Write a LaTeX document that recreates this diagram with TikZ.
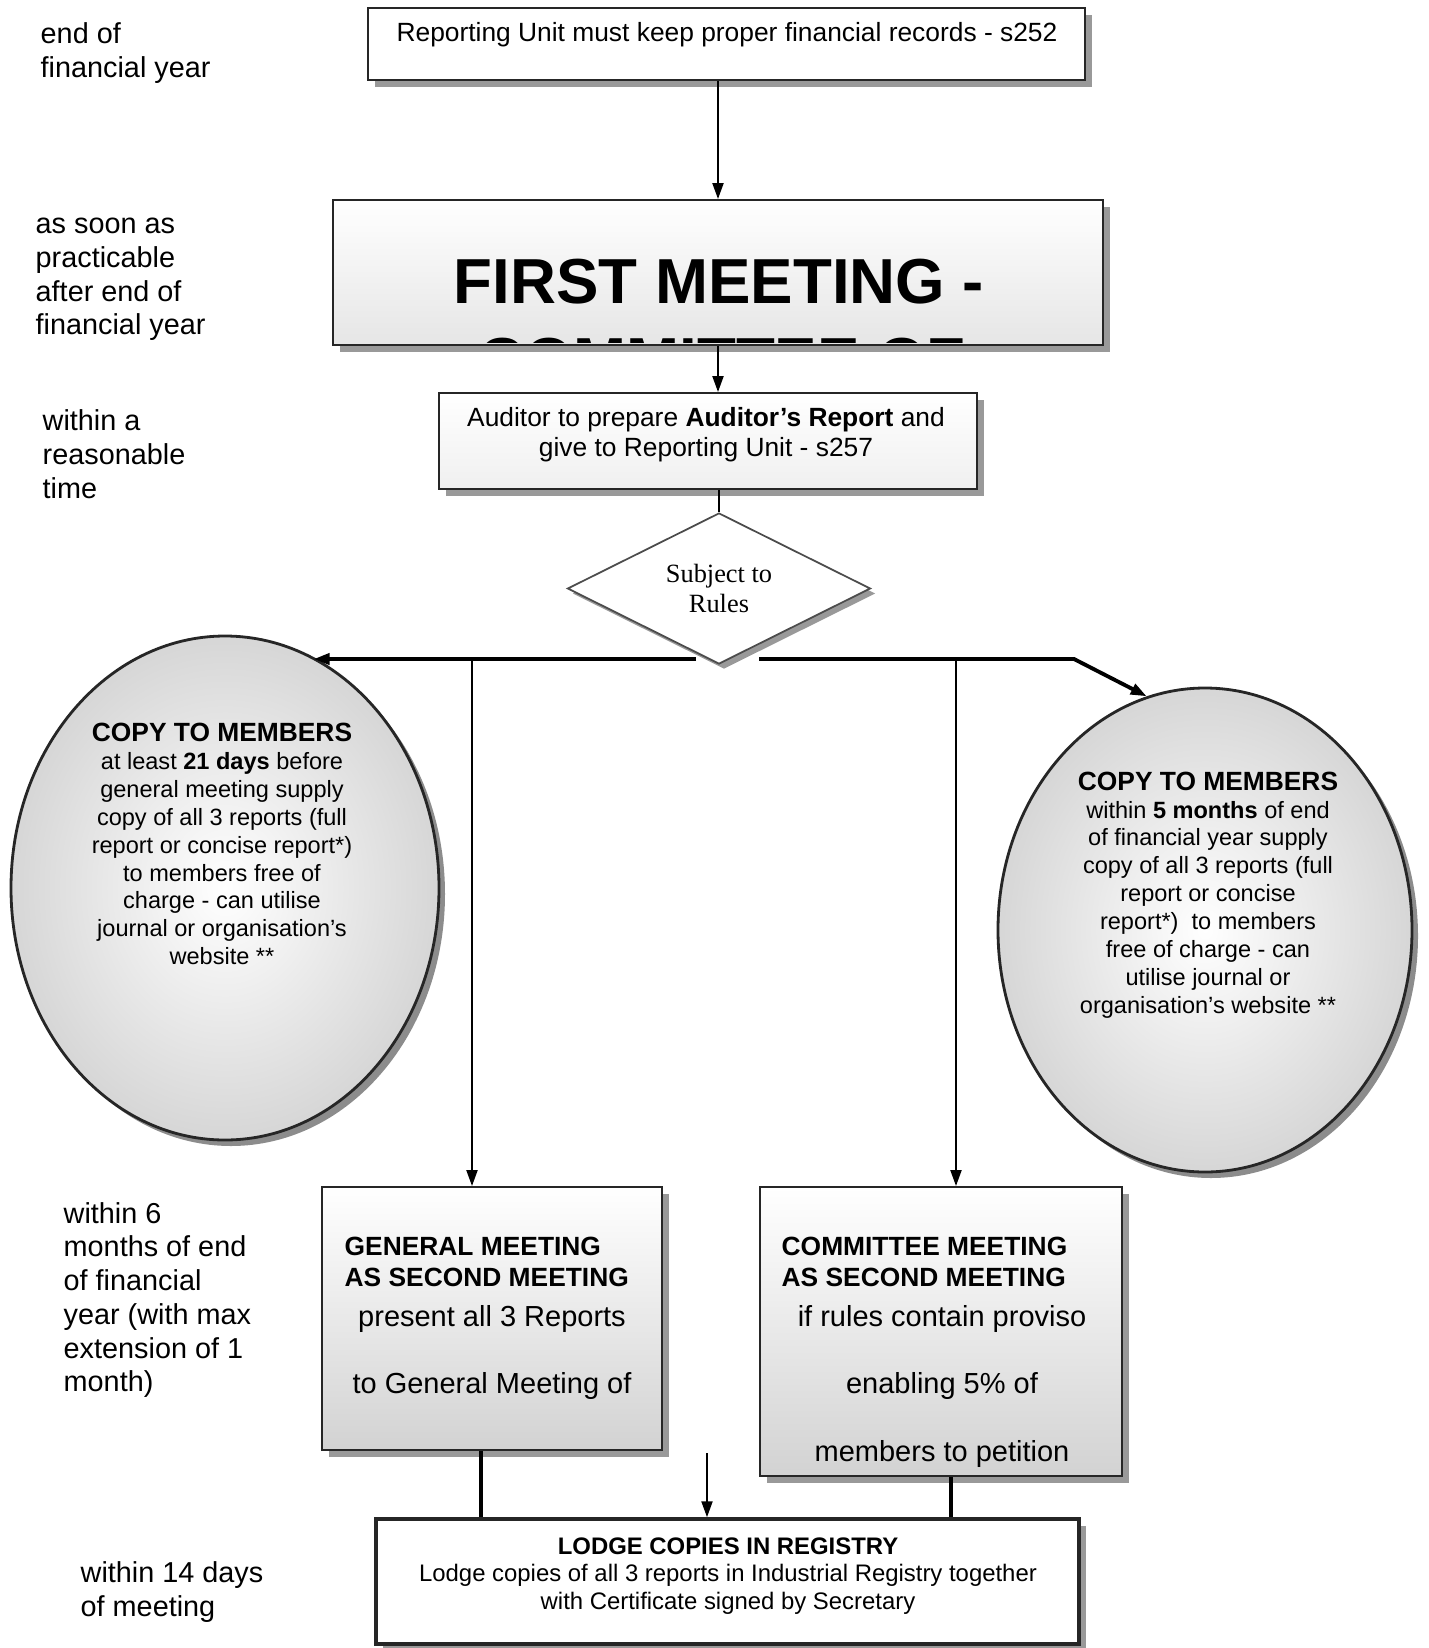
\documentclass[tikz,border=0pt]{standalone}
\usepackage{fontspec}
\setmainfont{Liberation Sans}
\newfontfamily\rulesfont{Liberation Serif}
\usetikzlibrary{arrows.meta,shapes.geometric,shadows}

\begin{document}
\begin{tikzpicture}[
  >={Triangle[length=0.16cm,width=0.11cm]},
  box/.style={draw=black!85, line width=0.55pt, inner sep=0pt, drop shadow={shadow xshift=0.07cm, shadow yshift=-0.07cm, fill=black!40, opacity=1}},
  blob/.style={ellipse, draw=black!85, line width=0.8pt, inner color=white, outer color=gray!32, inner sep=0pt, drop shadow={shadow xshift=0.06cm, shadow yshift=-0.06cm, fill=black!45, opacity=1}},
  note/.style={inner sep=0pt, align=center},
  side/.style={inner sep=0pt, align=left, anchor=west, font=\fontsize{8.2}{9.6}\selectfont},
  head/.style={inner sep=0pt, align=left, anchor=west, font=\fontsize{7.5}{8.8}\selectfont\bfseries},
  link/.style={line width=0.6pt},
  branch/.style={line width=1.1pt}
]
\useasboundingbox (0,0) rectangle (14.29,-16.48);

\node[side] (t1) at (0.40,-0.53) {end of\\financial year};
\node[side] (t2) at (0.35,-2.795) {as soon as\\practicable\\after end of\\financial year};
\node[side] (t3) at (0.42,-4.54) {within a\\reasonable\\time};
\node[side] (t4) at (0.63,-13.00) {within 6\\months of end\\of financial\\year (with max\\extension of 1\\month)};
\node[side] (t5) at (0.80,-15.92) {within 14 days\\of meeting};

\node[box, fill=white, minimum width=7.17cm, minimum height=0.72cm] (records) at (7.265,-0.44) {};
\node[note, font=\fontsize{7.5}{8.8}\selectfont] (recordstxt) at (7.27,-0.35) {Reporting Unit must keep proper financial records - s252};

\node[box, top color=white, bottom color=gray!20, minimum width=7.70cm, minimum height=1.45cm] (first) at (7.18,-2.725) {};
\node[note, font=\fontsize{18.1}{20}\selectfont\bfseries] (firsttxt) at (7.19,-2.82) {FIRST MEETING -};
\begin{scope}
\clip ([shift={(0.02,0.03)}]first.south west) rectangle ([shift={(-0.02,-0.02)}]first.north east);
\node[note, font=\fontsize{18.1}{20}\selectfont\bfseries] (cutoff) at (7.22,-3.61) {COMMITTEE OF};
\end{scope}

\node[box, top color=white, bottom color=gray!12, minimum width=5.38cm, minimum height=0.96cm] (auditor) at (7.08,-4.41) {};
\node[note, font=\fontsize{7.5}{8.7}\selectfont] (auditortxt) at (7.06,-4.345) {Auditor to prepare \textbf{Auditor's Report} and\\give to Reporting Unit - s257};

\node[diamond, aspect=2, draw=black!70, line width=0.5pt, fill=white, minimum width=3.03cm, minimum height=1.51cm, inner sep=0pt, align=center, font=\rulesfont\fontsize{7.5}{8.5}\selectfont, drop shadow={shadow xshift=0.05cm, shadow yshift=-0.05cm, fill=black!40, opacity=1}] (rules) at (7.19,-5.885) {Subject to\\Rules};

\node[blob, minimum width=4.28cm, minimum height=5.04cm] (copyl) at (2.25,-8.88) {};
\node[note, font=\fontsize{6.7}{7.94}\selectfont] (copyltxt) at (2.22,-8.44) {{\fontsize{7.5}{7.94}\selectfont\bfseries COPY TO MEMBERS}\\at least \textbf{21 days} before\\general meeting supply\\copy of all 3 reports (full\\report or concise report*)\\to members free of\\charge - can utilise\\journal or organisation's\\website **};

\node[blob, minimum width=4.14cm, minimum height=4.84cm] (copyr) at (12.05,-9.30) {};
\node[note, font=\fontsize{6.7}{7.94}\selectfont] (copyrtxt) at (12.08,-8.95) {{\fontsize{7.5}{7.94}\selectfont\bfseries COPY TO MEMBERS}\\within \textbf{5 months} of end\\of financial year supply\\copy of all 3 reports (full\\report or concise\\report*) \ to members\\free of charge - can\\utilise journal or\\organisation's website **};

\node[box, top color=white, bottom color=gray!35, minimum width=3.40cm, minimum height=2.63cm] (gm) at (4.92,-13.185) {};
\node[head] (gmhead) at (3.44,-12.615) {GENERAL MEETING\\AS SECOND MEETING};
\node[note, font=\fontsize{8.25}{9.6}\selectfont] (gmtxt1) at (4.92,-13.19) {present all 3 Reports};
\node[note, font=\fontsize{8.25}{9.6}\selectfont] (gmtxt2) at (4.92,-13.86) {to General Meeting of};

\node[box, top color=white, bottom color=gray!35, minimum width=3.62cm, minimum height=2.89cm] (cm) at (9.41,-13.315) {};
\node[head] (cmhead) at (7.81,-12.615) {COMMITTEE MEETING\\AS SECOND MEETING};
\node[note, font=\fontsize{8.25}{9.6}\selectfont] (cmtxt1) at (9.42,-13.19) {if rules contain proviso};
\node[note, font=\fontsize{8.25}{9.6}\selectfont] (cmtxt2) at (9.42,-13.86) {enabling 5\% of};
\node[note, font=\fontsize{8.25}{9.6}\selectfont] (cmtxt3) at (9.42,-14.54) {members to petition};

\node[box, fill=white, line width=1pt, minimum width=7.03cm, minimum height=1.25cm] (lodge) at (7.275,-15.815) {};
\node[note, font=\fontsize{6.8}{7.8}\selectfont] (lodgetxt) at (7.28,-15.76) {\textbf{LODGE COPIES IN REGISTRY}\\Lodge copies of all 3 reports in Industrial Registry together\\with Certificate signed by Secretary};

\coordinate (forkl) at (6.96,-6.59);
\coordinate (forkr) at (7.59,-6.59);
\coordinate (bend) at (10.74,-6.59);
\coordinate (dropl) at (4.72,-6.59);
\coordinate (dropr) at (9.56,-6.59);
\coordinate (feed) at (7.07,-14.53);

\draw[link,->] (records.south -| first.north) -- (first.north);
\draw[link,->] (first.south) -- (first.south |- auditor.north);
\draw[link] (auditor.south -| rules.north) -- (rules.north);
\draw[branch,->] (forkl) -- (forkl -| copyl.69);
\draw[branch,->] (forkr) -- (bend) -- (copyr.104);
\draw[link,->] (dropl) -- (dropl |- gm.north);
\draw[link,->] (dropr) -- (dropr |- cm.north);
\draw[branch] ([xshift=-0.11cm]gm.south) -- ([xshift=-0.11cm]gm.south |- lodge.north);
\draw[branch] ([xshift=0.10cm]cm.south) -- ([xshift=0.10cm]cm.south |- lodge.north);
\draw[link,->] (feed) -- (feed |- lodge.north);
\end{tikzpicture}
\end{document}
